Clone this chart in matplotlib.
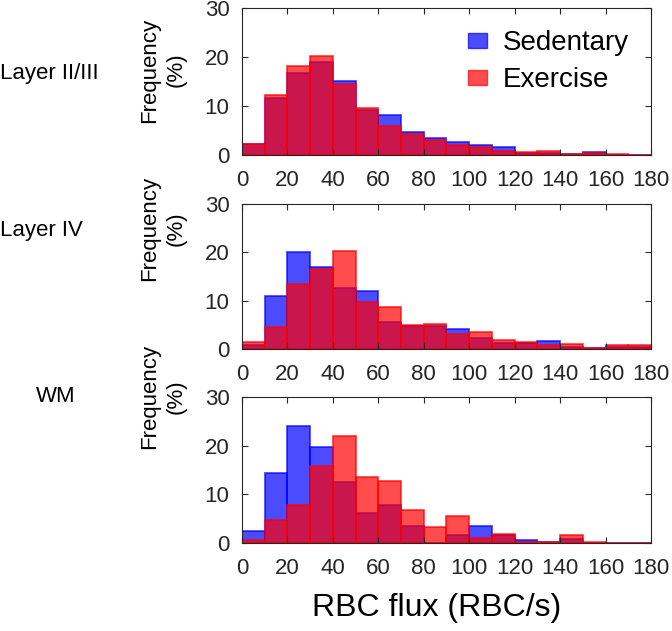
import numpy as np
import matplotlib
matplotlib.use("Agg")
import matplotlib.pyplot as plt
from matplotlib.patches import Patch

plt.rcParams['font.family'] = ['Liberation Sans', 'DejaVu Sans']

bin_edges = np.arange(0, 190, 10)
xticks = [0, 20, 40, 60, 80, 100, 120, 140, 160, 180]
yticks = [0, 10, 20, 30]
row_names = ["Layer II/III", "Layer IV", "WM"]

# Frequency (%) per 10 RBC/s bin, 0-180
sed_l23 = [2.2, 11.6, 16.7, 19.0, 15.1, 9.2, 8.2, 4.6, 3.5, 2.7, 2.1, 1.6, 0.5, 0.5, 0.3, 0.6, 0.0, 0.0]
exe_l23 = [2.2, 12.3, 18.2, 20.1, 14.5, 9.6, 5.9, 4.3, 3.1, 2.0, 1.6, 0.9, 0.55, 0.8, 0.3, 0.35, 0.3, 0.0]

sed_l4 = [0.9, 10.9, 20.0, 16.9, 12.6, 12.0, 5.5, 4.8, 4.7, 4.1, 2.2, 1.2, 1.2, 1.6, 0.4, 0.2, 0.4, 0.4]
exe_l4 = [1.4, 4.5, 13.4, 16.6, 20.2, 9.8, 8.7, 4.9, 5.2, 3.1, 3.5, 1.9, 1.4, 0.9, 1.1, 0.3, 0.8, 0.8]

sed_wm = [2.4, 14.3, 24.1, 19.7, 12.5, 6.2, 7.8, 3.5, 0.0, 1.6, 3.5, 1.7, 0.7, 0.2, 0.8, 0.0, 0.0, 0.0]
exe_wm = [0.7, 4.8, 7.9, 15.8, 21.9, 13.5, 12.7, 6.7, 3.3, 5.6, 1.1, 1.8, 0.3, 0.2, 1.6, 0.3, 0.0, 0.0]

sedentary = [sed_l23, sed_l4, sed_wm]
exercise = [exe_l23, exe_l4, exe_wm]

blue = (0, 0, 1)
red = (1, 0, 0)
alpha = 0.7

fig = plt.figure(figsize=(6.72, 6.31), dpi=100)
axes_pos = [[0.3601, 0.7544, 0.6086, 0.2330],
            [0.3601, 0.4469, 0.6086, 0.2298],
            [0.3601, 0.1395, 0.6086, 0.2314]]
name_pos = [(0.0, 0.884, 'left'), (0.0, 0.634, 'left'), (0.083, 0.371, 'center')]
ylab_y = [0.889, 0.638, 0.372]

for i in range(3):
    ax = fig.add_axes(axes_pos[i])
    lefts = bin_edges[:-1]
    ax.bar(lefts, sedentary[i], width=10, align='edge', color=blue, alpha=alpha,
           edgecolor=blue, linewidth=1.3)
    ax.bar(lefts, exercise[i], width=10, align='edge', color=red, alpha=alpha,
           edgecolor=red, linewidth=1.3)
    ax.set_xlim(0, 180)
    ax.set_ylim(0, 30)
    ax.set_xticks(xticks)
    ax.set_yticks(yticks)
    ax.tick_params(direction='in', top=True, right=True, labelsize=16,
                   labelcolor='#262626', color='#262626', length=4)
    ax.tick_params(axis='x', pad=11)
    ax.tick_params(axis='y', pad=9)
    for s in ax.spines.values():
        s.set_color('#262626')
        s.set_linewidth(0.8)
    x, y, ha = name_pos[i]
    fig.text(x, y, row_names[i], fontsize=16, ha=ha, va='center')
    fig.text(0.243, ylab_y[i], "Frequency\n(%)", fontsize=16, rotation=90,
             ha='center', va='center', linespacing=1.35, multialignment='center')
    if i == 0:
        handles = [Patch(facecolor=blue, edgecolor=blue, alpha=alpha, label='Sedentary'),
                   Patch(facecolor=red, edgecolor=red, alpha=alpha, label='Exercise')]
        ax.legend(handles=handles, loc='upper right', frameon=False, fontsize=20,
                  handlelength=0.7, handleheight=0.45, handletextpad=0.55,
                  labelspacing=0.4, borderaxespad=0.5, borderpad=0.3)

fig.text(0.649, 0.036, "RBC flux (RBC/s)", fontsize=23, ha='center', va='center')

fig.savefig("out.png", dpi=100)
